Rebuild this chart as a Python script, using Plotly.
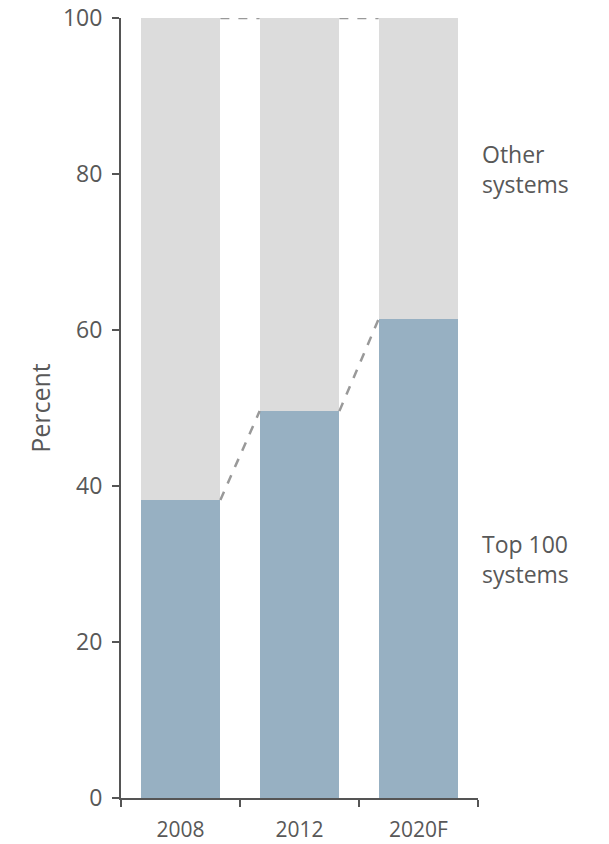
import plotly.graph_objects as go

# Share of systems, percent
years = ["2008", "2012", "2020F"]
top100 = [38.2, 49.6, 61.4]
other = [round(100 - v, 1) for v in top100]

BLUE = "#97B0C2"
GREY = "#DCDCDC"
TEXT = "#585858"
AXIS = "#555555"
FONT = "Open Sans, Noto Sans, sans-serif"
BAR_GAP = 0.33
half_w = (1 - BAR_GAP) / 2

fig = go.Figure()
fig.add_trace(go.Bar(x=years, y=top100, name="Top 100 systems",
                     marker=dict(color=BLUE, line=dict(width=0)), hoverinfo="y"))
fig.add_trace(go.Bar(x=years, y=other, name="Other systems",
                     marker=dict(color=GREY, line=dict(width=0)), hoverinfo="y"))

# Dashed connectors between neighbouring bars (segment boundary and total)
totals = [a + b for a, b in zip(top100, other)]
for i in range(len(years) - 1):
    for series in (top100, totals):
        fig.add_shape(type="line", xref="x", yref="y",
                      x0=i + half_w, y0=series[i],
                      x1=i + 1 - half_w, y1=series[i + 1],
                      line=dict(color="#999999", width=2.5, dash="dash"),
                      layer="above")

# Series labels to the right of the last bar
label_font = dict(family=FONT, size=23, color=TEXT)
labels = [
    ("Other<br>systems", (top100[-1] + totals[-1]) / 2),
    ("Top 100<br>systems", top100[-1] / 2),
]
for text, ymid in labels:
    fig.add_annotation(x=1.005, xref="paper", y=ymid, yref="y",
                       text=text, showarrow=False,
                       xanchor="left", yanchor="middle",
                       align="left", font=label_font)

fig.update_layout(
    barmode="stack",
    bargap=BAR_GAP,
    showlegend=False,
    width=609, height=844,
    margin=dict(l=121, r=131, t=18, b=46),
    paper_bgcolor="white", plot_bgcolor="white",
    font=dict(family=FONT, color=TEXT),
)
fig.update_xaxes(
    type="category", range=[-0.5, 2.5], automargin=False,
    showline=True, linecolor=AXIS, linewidth=2,
    ticks="outside", tickson="boundaries", ticklen=7, tickwidth=2, tickcolor=AXIS,
    ticklabelstandoff=12,
    showgrid=False, tickfont=dict(size=21, color=TEXT, family=FONT),
)
fig.update_yaxes(
    range=[0, 100], tickvals=[0, 20, 40, 60, 80, 100], automargin=False,
    showline=True, linecolor=AXIS, linewidth=2,
    ticks="outside", ticklen=7, tickwidth=2, tickcolor=AXIS,
    ticklabelstandoff=5,
    showgrid=False, zeroline=False,
    tickfont=dict(size=23, color=TEXT, family=FONT),
    title=dict(text="Percent", font=dict(size=25, color=TEXT, family=FONT),
               standoff=5),
)

fig.write_html("out.html")
